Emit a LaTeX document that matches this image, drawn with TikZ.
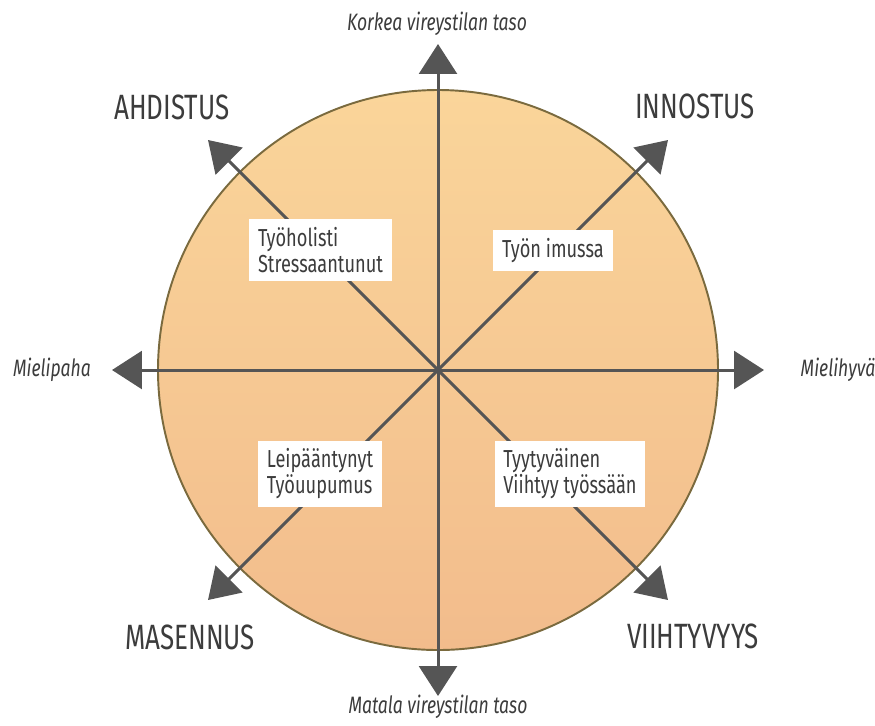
\documentclass[tikz,border=0pt]{standalone}
\usepackage{fontspec}
\setmainfont{Fira Sans}[FakeStretch=0.74]
\usepackage{tikz}
\usetikzlibrary{arrows.meta,positioning,calc}
\definecolor{moodTop}{RGB}{250,213,154}
\definecolor{moodBottom}{RGB}{242,188,140}
\definecolor{moodRim}{RGB}{122,106,62}
\definecolor{moodAxis}{RGB}{85,85,85}
\definecolor{moodText}{RGB}{60,60,60}

\begin{document}
\begin{tikzpicture}[x=0.02cm, y=-0.02cm,
    every node/.style={text=moodText},
    axis/.style={draw=moodAxis, line width=1.7pt, -{Triangle[length=17pt, width=21.5pt]}},
    mood/.style={font=\fontsize{20}{22}\selectfont},
    pole/.style={font=\itshape\fontsize{13.5}{15}\selectfont},
    state/.style={fill=white, align=left, inner xsep=5pt, inner ysep=4.5pt,
      font=\fontsize{14}{14.8}\selectfont}]
  \useasboundingbox (0,0) rectangle (875,725);
  % Circle
  \draw[moodRim, line width=1.1pt, top color=moodTop, bottom color=moodBottom]
    (438,370) circle (280);
  \coordinate (c) at (438,370);
  % Arrow ends
  \coordinate (up) at (438,44);
  \coordinate (down) at (438,696);
  \coordinate (left) at (112,370);
  \coordinate (right) at (764,370);
  \coordinate (nw) at (208,140);
  \coordinate (ne) at (668,140);
  \coordinate (sw) at (208,600);
  \coordinate (se) at (668,600);
  % Arrows
  \draw[axis] (c) -- (up);
  \draw[axis] (c) -- (down);
  \draw[axis] (c) -- (left);
  \draw[axis] (c) -- (right);
  \draw[axis] (c) -- (nw);
  \draw[axis] (c) -- (ne);
  \draw[axis] (c) -- (sw);
  \draw[axis] (c) -- (se);
  % States
  \node[state] (holic) at (320.5,250) {Työholisti\\Stressaantunut};
  \node[state] (flow) at (553,250.5) {Työn imussa};
  \node[state] (burn) at (320,474) {Leipääntynyt\\Työuupumus};
  \node[state] (happy) at (570,474) {Tyytyväinen\\Viihtyy työssään};
  % Moods
  \node[mood] (anx) at (172,107) {AHDISTUS};
  \node[mood] (ent) at (695,106) {INNOSTUS};
  \node[mood] (dep) at (190,637) {MASENNUS};
  \node[mood] (con) at (693,636) {VIIHTYVYYS};
  % Poles
  \node[pole] (high) at (437,24) {Korkea vireystilan taso};
  \node[pole] (low) at (438,707) {Matala vireystilan taso};
  \node[pole] (bad) at (52,370) {Mielipaha};
  \node[pole] (good) at (838,370) {Mielihyvä};
\end{tikzpicture}
\end{document}
